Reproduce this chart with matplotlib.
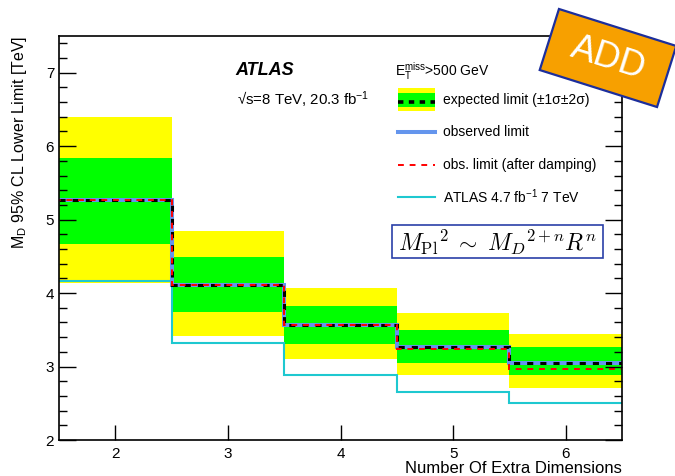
import numpy as np
import matplotlib
matplotlib.use("Agg")
import matplotlib.pyplot as plt
from matplotlib.patches import Rectangle
from matplotlib.lines import Line2D
from matplotlib.transforms import Affine2D

plt.rcParams['font.family'] = ['Liberation Sans', 'DejaVu Sans']
plt.rcParams['mathtext.fontset'] = 'custom'
plt.rcParams['mathtext.rm'] = 'Liberation Sans'
plt.rcParams['mathtext.it'] = 'Liberation Sans:italic'
plt.rcParams['mathtext.bf'] = 'Liberation Sans:bold'

# Number of extra dimensions and limits on M_D [TeV]
n_dims = [2, 3, 4, 5, 6]
expected = [5.27, 4.11, 3.57, 3.27, 3.05]
exp_p2 = [6.40, 4.85, 4.07, 3.73, 3.44]
exp_p1 = [5.84, 4.49, 3.83, 3.50, 3.26]
exp_m1 = [4.67, 3.74, 3.31, 3.05, 2.88]
exp_m2 = [4.14, 3.42, 3.10, 2.88, 2.71]
observed = [5.27, 4.11, 3.57, 3.27, 3.05]
observed_damped = [5.27, 4.11, 3.56, 3.24, 2.96]
atlas_7tev = [4.17, 3.32, 2.89, 2.65, 2.51]

YELLOW = '#ffff00'
GREEN = '#00ff00'
BLUE = '#6495ed'
CYAN = '#1ec8d0'

W, H = 675, 476
fig = plt.figure(figsize=(W / 100, H / 100), dpi=100)
ax = fig.add_axes([59 / W, 1 - 440 / H, (622 - 59) / W, (440 - 36) / H])

edges = np.append(np.array(n_dims) - 0.5, n_dims[-1] + 0.5)

ax.stairs(exp_p2, edges, baseline=exp_m2, fill=True, color=YELLOW, lw=0)
ax.stairs(exp_p1, edges, baseline=exp_m1, fill=True, color=GREEN, lw=0)
ax.stairs(atlas_7tev, edges, baseline=None, color=CYAN, lw=1.5)
ax.stairs(observed, edges, baseline=None, color=BLUE, lw=2.9)
ax.stairs(expected, edges, baseline=None, color='black', lw=2.2,
          linestyle=(0, (2.0, 2.3)))
ax.stairs(observed_damped, edges, baseline=None, color='red', lw=1.4,
          linestyle=(2.2, (3.0, 3.0)))

ax.set_xlim(1.5, 6.5)
ax.set_ylim(2, 7.5)
ax.set_xticks(n_dims)
ax.set_yticks([2, 3, 4, 5, 6, 7])
ax.set_yticks(np.arange(2, 7.5, 0.2), minor=True)
ax.tick_params(axis='y', which='major', direction='in', length=12, width=1,
               right=True, labelsize=11)
ax.tick_params(axis='y', which='minor', direction='in', length=6, width=1,
               right=True)
ax.tick_params(axis='x', which='major', direction='in', length=11, width=1,
               labelsize=11, pad=5)
for s in ax.spines.values():
    s.set_linewidth(1.2)

ax.set_xlabel('Number Of Extra Dimensions', fontsize=12, ha='right', va='top')
ax.xaxis.set_label_coords(1.0, -0.051)
ax.set_ylabel(r'M$_{\rm D}$ 95% CL Lower Limit [TeV]', loc='top', fontsize=11.5,
              labelpad=12)

# Labels
ax.text(0.314, 0.903, 'ATLAS', transform=ax.transAxes, fontsize=13,
        fontweight='bold', fontstyle='italic', va='baseline')
ax.text(0.316, 0.827, '√s=8 TeV, 20.3 fb$^{-1}$', transform=ax.transAxes,
        fontsize=10.8, va='baseline')
ax.text(0.596, 0.901, r'E$_{\rm T}^{\rm miss}$>500 GeV', transform=ax.transAxes,
        fontsize=10, va='baseline')

# Legend
hx0, hx1, tx = 0.602, 0.668, 0.682
LFS = 10
ty = 0.842
ax.add_patch(Rectangle((hx0, ty - 0.0285), hx1 - hx0, 0.057, transform=ax.transAxes,
                       fc=YELLOW, ec='none'))
ax.add_patch(Rectangle((hx0, ty - 0.0175), hx1 - hx0, 0.035, transform=ax.transAxes,
                       fc=GREEN, ec='none'))
ax.add_line(Line2D([hx0, hx1], [ty - 0.006, ty - 0.006], transform=ax.transAxes,
                   color='black', lw=2.6, linestyle=(0, (1.5, 1.5))))
ax.text(tx, ty, 'expected limit (±1σ±2σ)', transform=ax.transAxes,
        fontsize=LFS, va='center')

ty = 0.762
ax.add_line(Line2D([hx0, hx1], [ty, ty], transform=ax.transAxes, color=BLUE, lw=2.9))
ax.text(tx, ty, 'observed limit', transform=ax.transAxes, fontsize=LFS, va='center')

ty = 0.681
ax.add_line(Line2D([hx0, hx1], [ty, ty], transform=ax.transAxes, color='red', lw=1.4,
                   linestyle=(0, (3.0, 3.0))))
ax.text(tx, ty, 'obs. limit (after damping)', transform=ax.transAxes, fontsize=LFS,
        va='center')

ty = 0.601
ax.add_line(Line2D([hx0, hx1], [ty, ty], transform=ax.transAxes, color=CYAN, lw=1.5))
ax.text(tx, ty, 'ATLAS 4.7 fb$^{-1}$ 7 TeV', transform=ax.transAxes, fontsize=LFS,
        va='center')

# Relation box
bx0, bx1 = (392 - 59) / 563, (603 - 59) / 563
by0, by1 = (440 - 258) / 404, (440 - 225) / 404
ax.add_patch(Rectangle((bx0, by0), bx1 - bx0, by1 - by0, transform=ax.transAxes,
                       fc='white', ec='#2a3fa8', lw=1.2))
ax.text((bx0 + bx1) / 2, (by0 + by1) / 2 - 0.003,
        r'$M_{\rm Pl}{}^{2}\;\sim\;M_{D}{}^{2+n}R^{n}$', transform=ax.transAxes,
        fontsize=17, ha='center', va='center', math_fontfamily='cm')

# ADD badge
cx, cy, ang = 608, H - 58, -17.5
badge_tr = Affine2D().rotate_deg_around(cx, cy, ang).scale(1 / W, 1 / H) + fig.transFigure
fig.patches.append(Rectangle((cx - 61.5, cy - 32), 123, 64, transform=badge_tr,
                             fc='#f7a000', ec='#1c2e9c', lw=1.6, clip_on=False))
fig.text(cx / W, cy / H, 'ADD', color='white', fontsize=26, rotation=ang,
         rotation_mode='anchor', ha='center', va='center')

fig.savefig('out.png', dpi=100)
